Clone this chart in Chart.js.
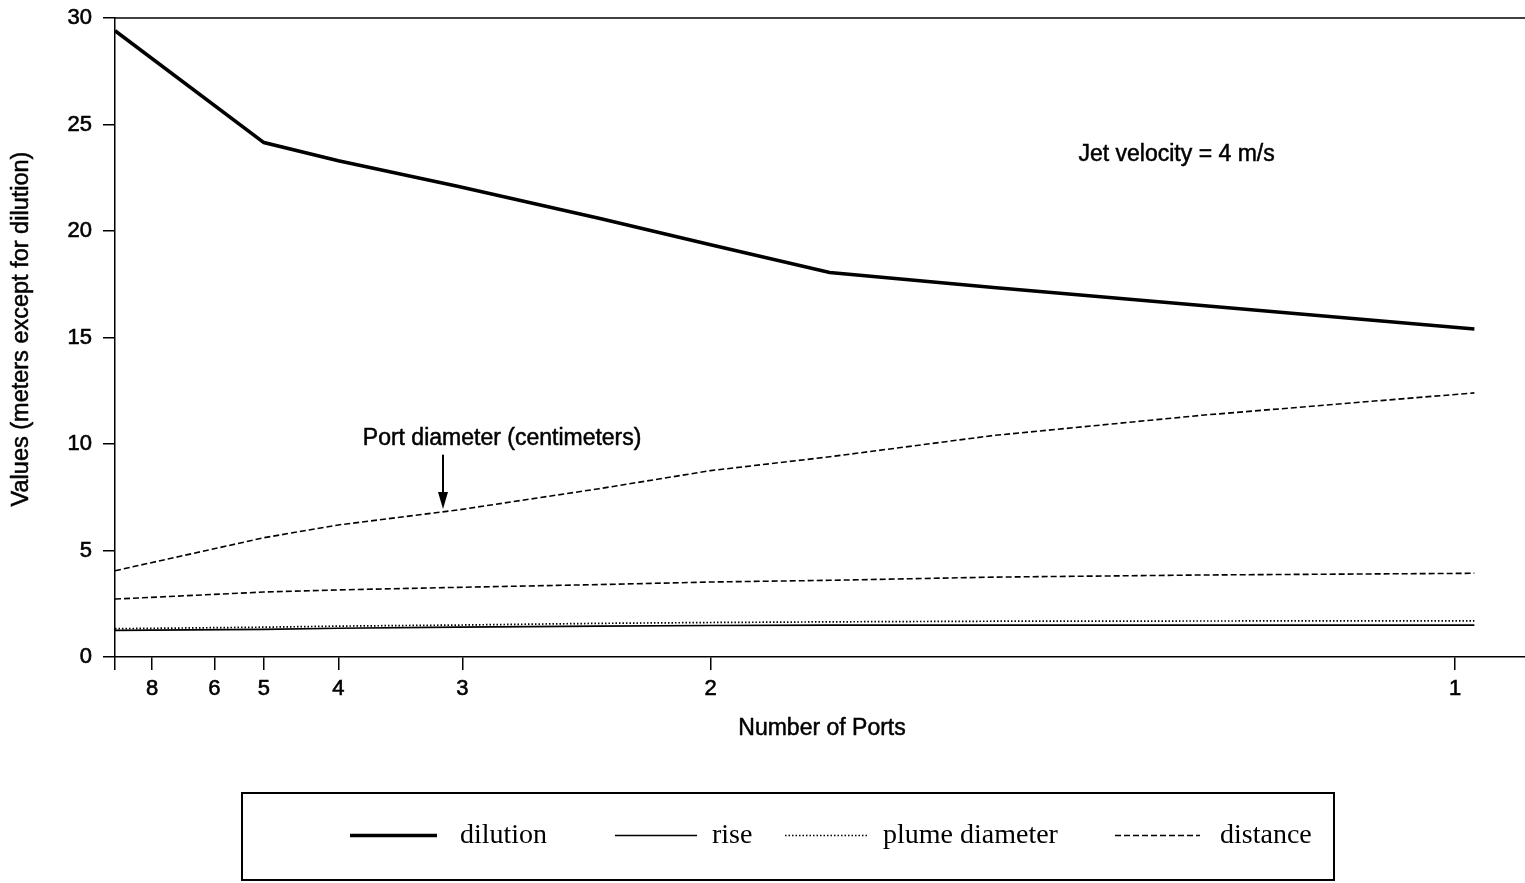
<!DOCTYPE html>
<html>
<head>
<meta charset="utf-8">
<title>Dilution, rise, plume diameter and distance vs number of ports</title>
<script src="https://cdn.jsdelivr.net/npm/chart.js@4.4.1/dist/chart.umd.min.js"></script>
<style>
  html, body { margin: 0; padding: 0; background: #fff; }
  canvas { display: block; }
</style>
</head>
<body>
<canvas id="chart" width="1525" height="883"></canvas>
<script>
// Horizontal position of each sample is the reciprocal of the number of ports (1/n)
const portPositions = [0.1, 0.2, 0.25, 0.33, 0.425, 0.5, 0.58, 0.69, 0.83, 1.013];
const dilution      = [29.4, 24.15, 23.3, 22.1, 20.6, 19.35, 18.05, 17.35, 16.5, 15.4];
const rise          = [1.25, 1.3, 1.35, 1.4, 1.45, 1.48, 1.5, 1.5, 1.5, 1.5];
const plumeDiameter = [1.33, 1.4, 1.45, 1.5, 1.58, 1.62, 1.65, 1.68, 1.69, 1.7];
const distance      = [2.72, 3.05, 3.15, 3.27, 3.4, 3.52, 3.6, 3.75, 3.85, 3.93];
const portDiameter  = [4.05, 5.6, 6.2, 6.9, 7.9, 8.75, 9.4, 10.4, 11.35, 12.4];

// Tick labels: number of ports shown along the bottom axis
const portTicks = [8, 6, 5, 4, 3, 2, 1];
const seriesNames = ['dilution', 'rise', 'plume diameter', 'distance'];
const xTitle = 'Number of Ports';
const yTitle = 'Values (meters except for dilution)';
const portDiameterLabel = 'Port diameter (centimeters)';
const velocityLabel = 'Jet velocity = 4 m/s';

const SANS = "'Liberation Sans', Arial, Helvetica, sans-serif";
const SERIF = "'Liberation Serif', 'Times New Roman', serif";

const toPoints = values => values.map((y, i) => ({ x: portPositions[i], y }));

const styles = {
  dilution: { borderWidth: 3.6, borderDash: [] },
  rise:     { borderWidth: 1.7, borderDash: [] },
  plume:    { borderWidth: 1.7, borderDash: [1.5, 2] },
  distance: { borderWidth: 1.6, borderDash: [6, 3] }
};

const datasets = [
  { label: seriesNames[0], data: toPoints(dilution), ...styles.dilution },
  { label: seriesNames[1], data: toPoints(rise), ...styles.rise },
  { label: seriesNames[2], data: toPoints(plumeDiameter), ...styles.plume },
  { label: seriesNames[3], data: toPoints(distance), ...styles.distance },
  { label: 'port diameter', data: toPoints(portDiameter), ...styles.distance }
].map(d => ({
  ...d,
  borderColor: '#000',
  backgroundColor: '#000',
  pointRadius: 0,
  tension: 0,
  fill: false
}));

// Slightly heavy text, like a photocopied figure
function heavyText(ctx, text, x, y) {
  ctx.fillText(text, x, y);
  ctx.lineWidth = 0.5;
  ctx.strokeText(text, x, y);
}

// Top frame line, axis titles, notes, arrow and the boxed legend underneath
const decorations = {
  id: 'decorations',
  afterDraw(chart) {
    const { ctx, chartArea, scales } = chart;
    const x = scales.x, y = scales.y;
    ctx.save();
    ctx.strokeStyle = '#000';
    ctx.fillStyle = '#000';

    // top frame
    ctx.lineWidth = 1.5;
    ctx.beginPath();
    ctx.moveTo(chartArea.left, chartArea.top);
    ctx.lineTo(chart.width, chartArea.top);
    ctx.stroke();

    // axis titles
    ctx.font = `23px ${SANS}`;
    ctx.textAlign = 'center';
    ctx.textBaseline = 'middle';
    heavyText(ctx, xTitle, (chartArea.left + chartArea.right) / 2 + 2, 729);
    ctx.save();
    ctx.translate(22, 329);
    ctx.rotate(-Math.PI / 2);
    ctx.font = `23.5px ${SANS}`;
    heavyText(ctx, yTitle, 0, 0);
    ctx.restore();

    // notes
    ctx.font = `23px ${SANS}`;
    heavyText(ctx, portDiameterLabel, x.getPixelForValue(0.36), y.getPixelForValue(10.25));
    heavyText(ctx, velocityLabel, x.getPixelForValue(0.813), y.getPixelForValue(23.6));

    // arrow pointing at the port diameter line
    const ax = x.getPixelForValue(0.3203);
    const aTop = y.getPixelForValue(9.5);
    const aTip = y.getPixelForValue(6.95);
    ctx.lineWidth = 2;
    ctx.beginPath();
    ctx.moveTo(ax, aTop);
    ctx.lineTo(ax, aTip - 14);
    ctx.stroke();
    ctx.beginPath();
    ctx.moveTo(ax - 5, aTip - 17);
    ctx.lineTo(ax + 5, aTip - 17);
    ctx.lineTo(ax, aTip);
    ctx.closePath();
    ctx.fill();

    // legend box
    const box = { left: 242, top: 793, right: 1334, bottom: 880 };
    ctx.lineWidth = 2;
    ctx.strokeRect(box.left, box.top, box.right - box.left, box.bottom - box.top);
    const cy = (box.top + box.bottom) / 2 - 1;
    const items = [
      { x0: 350, x1: 437, tx: 460, style: styles.dilution },
      { x0: 615, x1: 697, tx: 712, style: styles.rise },
      { x0: 785, x1: 867, tx: 883, style: styles.plume },
      { x0: 1115, x1: 1200, tx: 1220, style: styles.distance }
    ];
    ctx.font = `28px ${SERIF}`;
    ctx.textAlign = 'left';
    items.forEach((it, i) => {
      ctx.lineWidth = it.style.borderWidth;
      ctx.setLineDash(it.style.borderDash);
      ctx.beginPath();
      ctx.moveTo(it.x0, cy);
      ctx.lineTo(it.x1, cy);
      ctx.stroke();
      ctx.setLineDash([]);
      ctx.fillText(seriesNames[i], it.tx, cy);
    });
    ctx.restore();
  }
};

new Chart(document.getElementById('chart'), {
  type: 'line',
  data: { datasets },
  options: {
    responsive: false,
    animation: false,
    layout: { padding: { top: 18, right: 0, bottom: 141, left: 0 } },
    plugins: { legend: { display: false }, tooltip: { enabled: false } },
    scales: {
      x: {
        type: 'linear',
        min: 0.1,
        max: 1.047,
        afterBuildTicks(scale) {
          scale.ticks = [0.1, ...portTicks.map(n => 1 / n)].map(v => ({ value: v }));
        },
        afterFit(scale) {
          scale.height = 85;
          scale.paddingLeft = 0;
          scale.paddingRight = 0;
        },
        ticks: {
          autoSkip: false,
          maxRotation: 0,
          padding: 6,
          color: '#000',
          textStrokeColor: '#000',
          textStrokeWidth: 0.6,
          font: { family: SANS, size: 22 },
          callback: (v, i) => (i === 0 ? '' : String(Math.round(1 / v)))
        },
        grid: {
          display: true,
          drawOnChartArea: false,
          drawTicks: true,
          tickLength: 13,
          color: '#000',
          lineWidth: 1.5
        },
        border: { display: true, color: '#000', width: 1.5 },
        title: { display: false }
      },
      y: {
        min: 0,
        max: 30,
        afterFit(scale) {
          scale.width = 115;
          scale.paddingTop = 0;
          scale.paddingBottom = 0;
        },
        ticks: {
          stepSize: 5,
          padding: 11,
          color: '#000',
          textStrokeColor: '#000',
          textStrokeWidth: 0.6,
          font: { family: SANS, size: 22 }
        },
        grid: {
          display: true,
          drawOnChartArea: false,
          drawTicks: true,
          tickLength: 12,
          color: '#000',
          lineWidth: 1.5
        },
        border: { display: true, color: '#000', width: 1.5 },
        title: { display: false }
      }
    }
  },
  plugins: [decorations]
});
</script>
</body>
</html>
